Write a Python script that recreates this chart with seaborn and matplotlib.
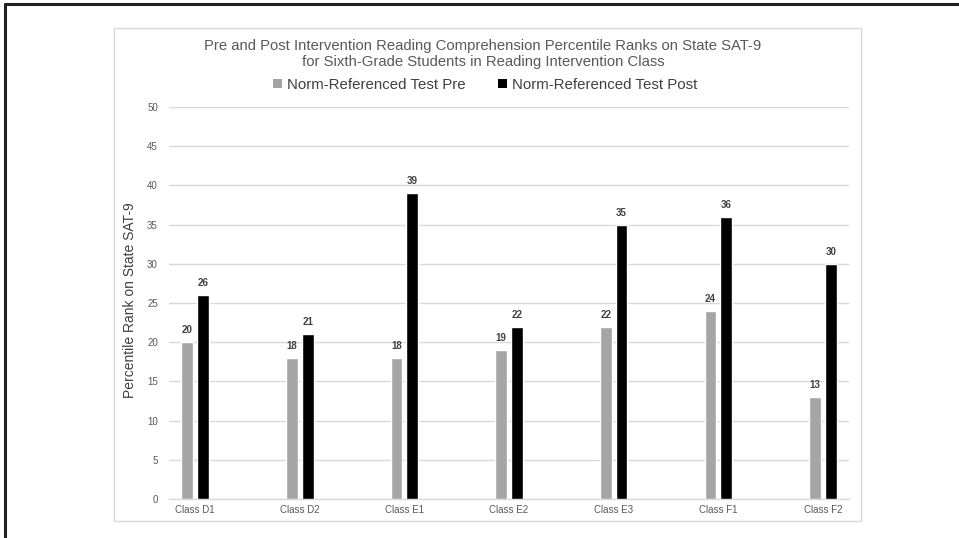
import matplotlib
matplotlib.use("Agg")
import matplotlib.pyplot as plt
from matplotlib.patches import Rectangle, Patch
from matplotlib.lines import Line2D
import seaborn as sns
import pandas as pd

categories = ["Class D1", "Class D2", "Class E1", "Class E2", "Class E3", "Class F1", "Class F2"]
pre_scores = [20, 18, 18, 19, 22, 24, 13]
post_scores = [26, 21, 39, 22, 35, 36, 30]
series_names = ["Norm-Referenced Test Pre", "Norm-Referenced Test Post"]
series_colors = ["#a5a5a5", "#000000"]
y_ticks = [0, 5, 10, 15, 20, 25, 30, 35, 40, 45, 50]

df = pd.DataFrame({
    "Class": categories * 2,
    "Score": pre_scores + post_scores,
    "Test": [series_names[0]] * len(categories) + [series_names[1]] * len(categories),
})

sns.set_theme(style="white")
plt.rcParams["font.family"] = ["Liberation Sans", "DejaVu Sans"]

W, H = 959, 538
fig = plt.figure(figsize=(W / 100, H / 100), dpi=100)
fig.patch.set_facecolor("white")

# outer frame (left and top edges visible)
fig.add_artist(Line2D([5 / W, 5 / W], [0, 1 - 4 / H], color="#222222", lw=2.2))
fig.add_artist(Line2D([5 / W, 1], [1 - 4 / H, 1 - 4 / H], color="#222222", lw=2.2))

# chart area border
fig.add_artist(Rectangle((114 / W, 1 - 521 / H), (861 - 114) / W, (521 - 28) / H,
                         transform=fig.transFigure, fill=False, ec="#d9d9d9", lw=1.0))

ax = fig.add_axes([169 / W, 1 - 499 / H, (849 - 169) / W, (499 - 107) / H])
sns.barplot(data=df, x="Class", y="Score", hue="Test", hue_order=series_names,
            palette=series_colors, width=0.3, gap=0.25, saturation=1,
            legend=False, ax=ax, zorder=3)

ax.set_xlim(-0.25, 6.25)
ax.set_ylim(0, 50)
ax.set_yticks(y_ticks)
ax.yaxis.grid(True, color="#d9d9d9", lw=1.0, zorder=0)
ax.xaxis.grid(False)
for side in ["top", "right", "left"]:
    ax.spines[side].set_visible(False)
ax.spines["bottom"].set_color("#d9d9d9")
ax.spines["bottom"].set_linewidth(1.0)
ax.tick_params(axis="both", length=0, labelsize=7, labelcolor="#595959")
ax.tick_params(axis="y", pad=8)
ax.tick_params(axis="x", pad=4)
ax.set_xlabel("")
ax.set_ylabel("")

for cont in ax.containers:
    ax.bar_label(cont, fmt="%d", padding=5, fontsize=7, color="#404040",
                 fontweight="bold")

fig.text(130 / W, 1 - 300 / H, "Percentile Rank on State SAT-9", rotation=90,
         ha="center", va="center", fontsize=10, color="#404040")

fig.text(483 / W, 1 - 54 / H,
         "Pre and Post Intervention Reading Comprehension Percentile Ranks on State SAT-9\n"
         "for Sixth-Grade Students in Reading Intervention Class",
         ha="center", va="center", fontsize=10.7, color="#595959", linespacing=1.15)

handles = [Patch(facecolor=c, edgecolor="none") for c in series_colors]
fig.legend(handles, series_names, loc="center", bbox_to_anchor=(485 / W, 1 - 85 / H),
           ncol=2, frameon=False, fontsize=10.8, handlelength=0.6, handleheight=0.6,
           handletextpad=0.3, columnspacing=2.2, labelcolor="#404040")

fig.savefig("out.png", dpi=100, facecolor="white")
